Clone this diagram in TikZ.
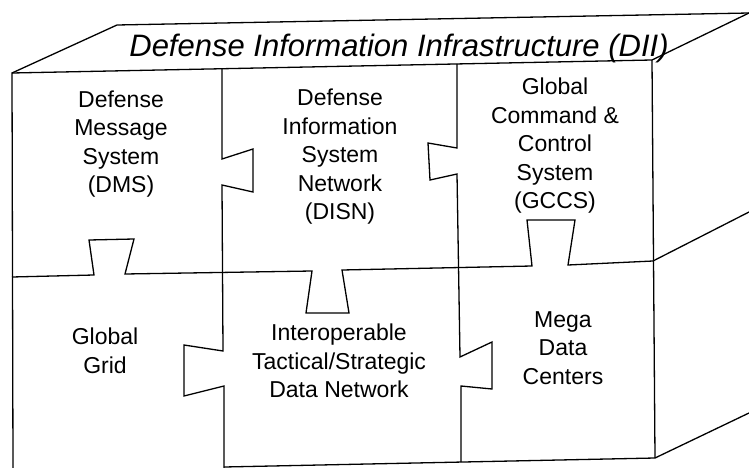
\documentclass[tikz,border=0pt]{standalone}
\usepackage{fontspec}
\setmainfont{Liberation Sans}
\begin{document}
\begin{tikzpicture}[x=1pt,y=-1pt,
  edge/.style={line width=1.3pt,line join=miter},
  celltext/.style={align=center,inner sep=0pt,font=\fontsize{23}{28.5}\selectfont},
  titletext/.style={inner sep=0pt,font=\fontsize{31}{36}\selectfont\itshape}]
\useasboundingbox (0,0) rectangle (749,468);
% box outline
\draw[edge] (13,468) -- (12,73) -- (652,60) -- (655,458);
\draw[edge] (224,467) -- (655,458);
% top face
\draw[edge] (12,73) -- (117,25) -- (749,13);
\draw[edge] (652,60) -- (749,13);
% right face
\draw[edge] (653,261) -- (749,212);
\draw[edge] (655,458) -- (749,413);
% vertical divider 1
\draw[edge] (222,69) -- (222,159) -- (253,149) -- (253,192) -- (222,185)
  -- (223,351) -- (184,345) -- (184,396) -- (224,386) -- (224,468);
% vertical divider 2
\draw[edge] (457,64) -- (457,148) -- (428,143) -- (430,180) -- (457,174)
  -- (460,357) -- (492,342) -- (492,389) -- (461,386) -- (461,462);
% horizontal divider
\draw[edge] (12,277) -- (94,275) -- (89,240) -- (134,239) -- (125,274)
  -- (312,271) -- (306,313) -- (349,313) -- (342,270)
  -- (532,266) -- (527,220) -- (575,220) -- (568,265) -- (653,261);
% texts
\node[titletext,anchor=base] (title) at (399,57) {Defense Information Infrastructure (DII)};
\node[celltext] (dms) at (121,144) {Defense\\Message\\System\\(DMS)};
\node[celltext] (disn) at (340,157) {Defense\\Information\\System\\Network\\(DISN)};
\node[celltext] (gccs) at (555,146) {Global\\Command \&\\Control\\System\\(GCCS)};
\node[celltext] (grid) at (105,351) {Global\\Grid};
\node[celltext] (itsdn) at (339,361) {Interoperable\\Tactical/Strategic\\Data Network};
\node[celltext] (mega) at (563,348) {Mega\\Data\\Centers};
\end{tikzpicture}
\end{document}
